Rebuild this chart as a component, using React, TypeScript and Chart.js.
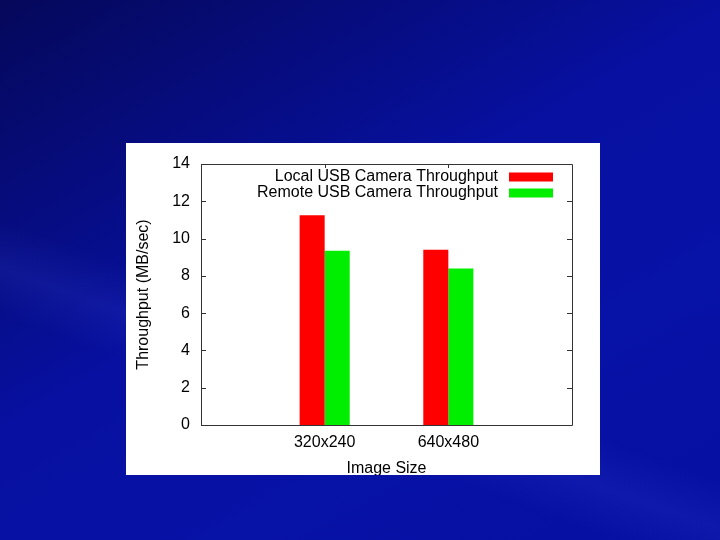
import React, { useEffect, useRef } from "react";
import { Chart, registerables } from "chart.js";

Chart.register(...registerables);

const categories = ["", "320x240", "640x480", ""];
const seriesNames = ["Local USB Camera Throughput", "Remote USB Camera Throughput"];
const localValues = [null, 11.25, 9.4, null];
const remoteValues = [null, 9.35, 8.4, null];
const seriesColors = ["#ff0000", "#00ee00"];
const yTicks = [0, 2, 4, 6, 8, 10, 12, 14];
const yTitle = "Throughput (MB/sec)";
const xTitle = "Image Size";

const FONT = "'Liberation Sans', Arial, sans-serif";

const framePlugin = {
  id: "gnuplotFrame",
  afterDraw(chart: any) {
    const { ctx, chartArea: a, scales } = chart;
    const y = scales.y;
    const x = scales.x;
    ctx.save();
    ctx.strokeStyle = "#333333";
    ctx.lineWidth = 1;
    ctx.beginPath();
    ctx.rect(Math.round(a.left) + 0.5, Math.round(a.top) + 0.5, Math.round(a.right - a.left), Math.round(a.bottom - a.top));
    ctx.stroke();
    ctx.beginPath();
    yTicks.forEach((v) => {
      const py = Math.round(y.getPixelForValue(v)) + 0.5;
      ctx.moveTo(a.left, py);
      ctx.lineTo(a.left + 5, py);
      ctx.moveTo(a.right, py);
      ctx.lineTo(a.right - 5, py);
    });
    categories.forEach((c, i) => {
      if (!c) return;
      const px = Math.round(x.getPixelForValue(i)) + 0.5;
      ctx.moveTo(px, a.top);
      ctx.lineTo(px, a.top + 4);
    });
    ctx.stroke();
    // legend (gnuplot style: text right-aligned, swatch on right)
    ctx.font = `16px ${FONT}`;
    ctx.textAlign = "right";
    ctx.textBaseline = "middle";
    ctx.fillStyle = "#000000";
    seriesNames.forEach((name, i) => {
      const cy = a.top + 13 + i * 16;
      ctx.fillText(name, a.right - 74, cy);
      ctx.fillStyle = seriesColors[i];
      ctx.fillRect(a.right - 63, cy - 4.5, 44, 9);
      ctx.fillStyle = "#000000";
    });
    ctx.restore();
  },
};

export default function App() {
  const ref = useRef<HTMLCanvasElement | null>(null);
  useEffect(() => {
    if (!ref.current) return;
    const chart = new Chart(ref.current, {
      type: "bar",
      data: {
        labels: categories,
        datasets: [
          { label: seriesNames[0], data: localValues, backgroundColor: seriesColors[0] },
          { label: seriesNames[1], data: remoteValues, backgroundColor: seriesColors[1] },
        ],
      },
      options: {
        animation: false,
        responsive: false,
        maintainAspectRatio: false,
        layout: { padding: { left: 0, right: 28, top: 21, bottom: 0 } },
        datasets: { bar: { categoryPercentage: 0.405, barPercentage: 1.0 } },
        plugins: { legend: { display: false }, tooltip: { enabled: false } },
        scales: {
          x: {
            offset: false,
            grid: { display: false, drawTicks: false },
            border: { display: false },
            ticks: { color: "#000", font: { family: FONT, size: 16 }, padding: 8, maxRotation: 0, autoSkip: false },
            title: { display: true, text: xTitle, color: "#000", font: { family: FONT, size: 16 }, padding: { top: 2, bottom: -3 } },
            afterFit: (s: any) => { s.height = 50; },
          },
          y: {
            min: 0,
            max: 14,
            grid: { display: false, drawTicks: false },
            border: { display: false },
            ticks: { stepSize: 2, color: "#000", font: { family: FONT, size: 16 }, padding: 11 },
            title: { display: true, text: yTitle, color: "#000", font: { family: FONT, size: 16 }, padding: { top: 8, bottom: 0 } },
            afterFit: (s: any) => { s.width = 75; },
          },
        },
      },
      plugins: [framePlugin],
    });
    return () => chart.destroy();
  }, []);

  return (
    <div
      style={{
        position: "fixed",
        left: 0,
        top: 0,
        width: 720,
        height: 540,
        overflow: "hidden",
        background:
          "linear-gradient(150deg, #05085a 0%, #060c7c 22%, #0710a0 45%, #0712a6 70%, #0610a2 100%)",
      }}
    >
      <div
        style={{
          position: "absolute",
          inset: 0,
          background:
            "linear-gradient(200deg, rgba(255,255,255,0) 60%, rgba(90,110,255,0.10) 66%, rgba(255,255,255,0) 72%)",
        }}
      />
      <canvas
        ref={ref}
        width={474}
        height={332}
        style={{ position: "absolute", left: 126, top: 143, width: 474, height: 332, background: "#ffffff" }}
      />
    </div>
  );
}
